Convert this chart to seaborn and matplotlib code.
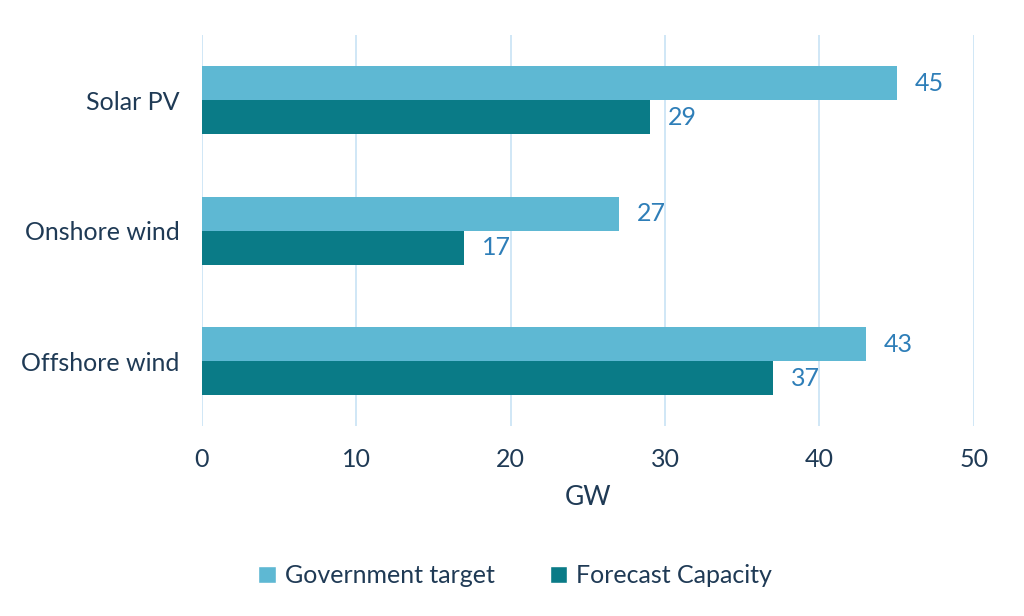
import pandas as pd
import seaborn as sns
import matplotlib.pyplot as plt
from matplotlib.patches import Patch

categories = ['Solar PV', 'Onshore wind', 'Offshore wind']
government_target = [45, 27, 43]
forecast_capacity = [29, 17, 37]
series_names = ['Government target', 'Forecast Capacity']

df = pd.DataFrame({
    'Technology': categories * 2,
    'GW': government_target + forecast_capacity,
    'Series': [series_names[0]] * 3 + [series_names[1]] * 3,
})

sns.set_style('white')
plt.rcParams['font.family'] = ['Lato', 'DejaVu Sans']

text_color = '#1f3a55'
label_color = '#2e7eb8'
colors = ['#5eb8d3', '#0a7b87']

fig = plt.figure(figsize=(10.24, 6.16), dpi=100)
ax = fig.add_axes([0.197, 0.308, 0.754, 0.635])

sns.barplot(data=df, y='Technology', x='GW', hue='Series', orient='h',
            palette=colors, width=0.52, ax=ax, legend=False,
            edgecolor='none', saturation=1)

for cont in ax.containers:
    ax.bar_label(cont, padding=13, color=label_color, fontsize=18)

ax.set_xlim(0, 50)
ax.set_ylim(2.5, -0.5)
ax.set_xticks(range(0, 51, 10))
ax.grid(axis='x', color='#d0e7f6', linewidth=1.4)
ax.set_axisbelow(True)
for s in ax.spines.values():
    s.set_visible(False)
ax.tick_params(axis='both', length=0, labelsize=18, labelcolor=text_color)
ax.tick_params(axis='x', pad=16)
ax.tick_params(axis='y', pad=16)
ax.set_ylabel('')
ax.set_xlabel('GW', fontsize=19, color=text_color, labelpad=10)

handles = [Patch(facecolor=c, label=n) for c, n in zip(colors, series_names)]
fig.legend(handles=handles, loc='center', bbox_to_anchor=(0.503, 0.065), ncol=2,
           frameon=False, fontsize=18, handlelength=0.7, handleheight=0.7,
           handletextpad=0.35, columnspacing=2.2, labelcolor=text_color)

fig.savefig('out.png', dpi=100)
